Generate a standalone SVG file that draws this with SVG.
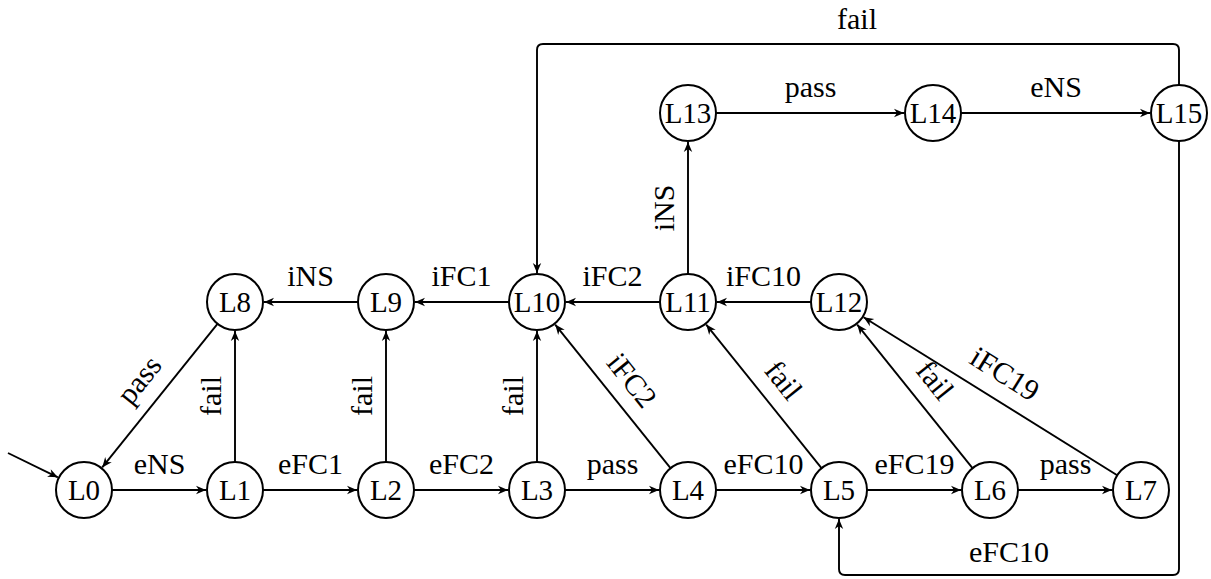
<svg xmlns="http://www.w3.org/2000/svg" width="1211" height="579" viewBox="0 0 1211 579" font-family="'Liberation Serif', 'DejaVu Serif', serif">
<style>
.node circle{fill:#fff;stroke:#000;stroke-width:2}
.node text{font-family:'Liberation Serif','DejaVu Serif',serif;font-size:29px;text-anchor:middle;fill:#000}
.edge{fill:none;stroke:#000;stroke-width:1.9;marker-end:url(#arr)}
.lbl{font-family:'Liberation Serif','DejaVu Serif',serif;font-size:30px;text-anchor:middle;fill:#000}
</style>
<defs>
<marker id="arr" markerUnits="userSpaceOnUse" markerWidth="12" markerHeight="10" viewBox="-11 -5 12 10" refX="0" refY="0" orient="auto">
<path d="M0,0 L-10,-4.2 L-7,0 L-10,4.2 Z" fill="#000"/>
</marker>
</defs>
<rect width="1211" height="579" fill="#fff"/>
<g id="connectors">
<path class="edge" d="M8,453 L57.9,477.3"/>
<path class="edge" d="M112,490 L206,490"/>
<path class="edge" d="M263,490 L357,490"/>
<path class="edge" d="M414,490 L508,490"/>
<path class="edge" d="M565,490 L659,490"/>
<path class="edge" d="M716,490 L810,490"/>
<path class="edge" d="M867,490 L961,490"/>
<path class="edge" d="M1018,490 L1112,490"/>
<path class="edge" d="M235,462 L235,331"/>
<path class="edge" d="M386,462 L386,331"/>
<path class="edge" d="M537,462 L537,331"/>
<path class="edge" d="M217.5,323.8 L102.2,467.4"/>
<path class="edge" d="M358,302 L264,302"/>
<path class="edge" d="M509,302 L415,302"/>
<path class="edge" d="M660,302 L566,302"/>
<path class="edge" d="M811,302 L717,302"/>
<path class="edge" d="M670.5,468.2 L555.2,324.6"/>
<path class="edge" d="M821.5,468.2 L706.2,324.6"/>
<path class="edge" d="M972.5,468.2 L857.2,324.6"/>
<path class="edge" d="M1117.2,475.2 L863.6,317.3"/>
<path class="edge" d="M688,274 L688,142"/>
<path class="edge" d="M716,113 L904,113"/>
<path class="edge" d="M961,113 L1150,113"/>
<path class="edge" d="M1179,85 L1179,50 Q1179,44 1173,44 L543,44 Q537,44 537,50 L537,273"/>
<path class="edge" d="M1179,141 L1179,569 Q1179,575 1173,575 L845,575 Q839,575 839,569 L839,519"/>
</g>
<g id="labels">
<text class="lbl" x="159.5" y="474">eNS</text>
<text class="lbl" x="310.5" y="474">eFC1</text>
<text class="lbl" x="461.5" y="474">eFC2</text>
<text class="lbl" x="612.5" y="474">pass</text>
<text class="lbl" x="763.5" y="474">eFC10</text>
<text class="lbl" x="914.5" y="474">eFC19</text>
<text class="lbl" x="1065.5" y="474">pass</text>
<text class="lbl" x="310.5" y="286">iNS</text>
<text class="lbl" x="461.5" y="286">iFC1</text>
<text class="lbl" x="612.5" y="286">iFC2</text>
<text class="lbl" x="763.5" y="286">iFC10</text>
<text class="lbl" x="810.5" y="97">pass</text>
<text class="lbl" x="1056" y="97">eNS</text>
<text class="lbl" x="857" y="29">fail</text>
<text class="lbl" x="1009" y="562">eFC10</text>
<text class="lbl" transform="translate(221,396) rotate(-90)">fail</text>
<text class="lbl" transform="translate(372,396) rotate(-90)">fail</text>
<text class="lbl" transform="translate(523,396) rotate(-90)">fail</text>
<text class="lbl" transform="translate(674,208) rotate(-90)">iNS</text>
<text class="lbl" transform="translate(147,386) rotate(-51.2)">pass</text>
<text class="lbl" transform="translate(624.2,386.6) rotate(51.2)">iFC2</text>
<text class="lbl" transform="translate(775.7,386.6) rotate(51.2)">fail</text>
<text class="lbl" transform="translate(927.2,386.6) rotate(51.2)">fail</text>
<text class="lbl" transform="translate(999.5,382.4) rotate(31.9)">iFC19</text>
</g>
<g id="L0" class="node"><circle cx="84" cy="490" r="28"/><text x="84" y="500">L0</text></g>
<g id="L1" class="node"><circle cx="235" cy="490" r="28"/><text x="235" y="500">L1</text></g>
<g id="L2" class="node"><circle cx="386" cy="490" r="28"/><text x="386" y="500">L2</text></g>
<g id="L3" class="node"><circle cx="537" cy="490" r="28"/><text x="537" y="500">L3</text></g>
<g id="L4" class="node"><circle cx="688" cy="490" r="28"/><text x="688" y="500">L4</text></g>
<g id="L5" class="node"><circle cx="839" cy="490" r="28"/><text x="839" y="500">L5</text></g>
<g id="L6" class="node"><circle cx="990" cy="490" r="28"/><text x="990" y="500">L6</text></g>
<g id="L7" class="node"><circle cx="1141" cy="490" r="28"/><text x="1141" y="500">L7</text></g>
<g id="L8" class="node"><circle cx="235" cy="302" r="28"/><text x="235" y="312">L8</text></g>
<g id="L9" class="node"><circle cx="386" cy="302" r="28"/><text x="386" y="312">L9</text></g>
<g id="L10" class="node"><circle cx="537" cy="302" r="28"/><text x="537" y="312">L10</text></g>
<g id="L11" class="node"><circle cx="688" cy="302" r="28"/><text x="688" y="312">L11</text></g>
<g id="L12" class="node"><circle cx="839" cy="302" r="28"/><text x="839" y="312">L12</text></g>
<g id="L13" class="node"><circle cx="688" cy="113" r="28"/><text x="688" y="123">L13</text></g>
<g id="L14" class="node"><circle cx="933" cy="113" r="28"/><text x="933" y="123">L14</text></g>
<g id="L15" class="node"><circle cx="1179" cy="113" r="28"/><text x="1179" y="123">L15</text></g>
</svg>
